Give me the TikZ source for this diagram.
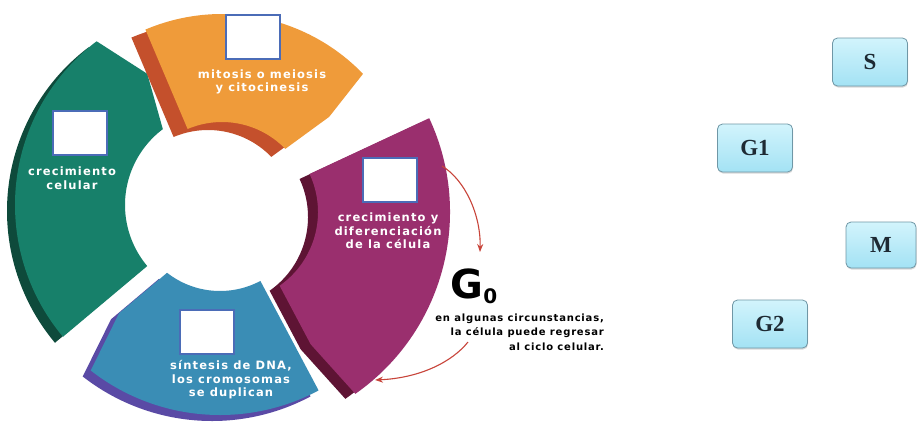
\documentclass[tikz,border=0pt]{standalone}
\usepackage{fontspec}
\usetikzlibrary{calc}
\usetikzlibrary{arrows.meta}
\usetikzlibrary{shadows}
\newfontfamily\ringfont{DejaVu Sans}[LetterSpace=10.0]
\newfontfamily\notefont{DejaVu Sans}[LetterSpace=8.0]
\newfontfamily\gzerofont{DejaVu Sans}
\newfontfamily\phasefont{Liberation Serif}
\definecolor{color_green_face}{HTML}{17806A}
\definecolor{color_green_side}{HTML}{0E4A3B}
\definecolor{color_orange_face}{HTML}{EF9B3A}
\definecolor{color_orange_side}{HTML}{C4502C}
\definecolor{color_magenta_face}{HTML}{9A2F6E}
\definecolor{color_magenta_side}{HTML}{5E1434}
\definecolor{color_blue_face}{HTML}{3A8DB5}
\definecolor{color_blue_side}{HTML}{5A4AA5}
\definecolor{color_box_border}{HTML}{4B6CB7}
\definecolor{color_go_arrow}{HTML}{C8443A}
\definecolor{color_phase_top}{HTML}{D2F4FC}
\definecolor{color_phase_bottom}{HTML}{A3E2F4}
\definecolor{color_phase_border}{HTML}{6F97A6}
\definecolor{color_phase_text}{HTML}{1E2A33}
\def\sidedx{-8}
\def\sidedy{6}
\def\cyclesector[#1,#2](#3,#4,#5,#6,#7,#8,#9){
    \begin{scope}[shift={(#3,#4)}]
        \fill[#2,shift={(\sidedx,\sidedy)}] (#5:#7) -- (#5:#8) arc[start angle=#5,end angle=#6,radius=#8]
            -- ({#6+#9}:{(#7+#8)/2}) -- (#6:#7) arc[start angle=#6,end angle=#5,radius=#7] -- cycle;
        \fill[#1] (#5:#7) -- (#5:#8) arc[start angle=#5,end angle=#6,radius=#8]
            -- ({#6+#9}:{(#7+#8)/2}) -- (#6:#7) arc[start angle=#6,end angle=#5,radius=#7] -- cycle;
    \end{scope}
}
\tikzset{
    answerbox/.style={draw=color_box_border, line width=1.8pt, fill=white, minimum width=54pt, minimum height=44pt, inner sep=0pt},
    ringlabel/.style={text=white, font=\ringfont\bfseries\fontsize{11.5}{13.5}\selectfont, align=center, inner sep=0pt},
    notelabel/.style={text=black, font=\notefont\bfseries\fontsize{10}{14.5}\selectfont, align=right, inner sep=0pt},
    phasebox/.style={rounded corners=5pt, draw=color_phase_border, line width=0.8pt, top color=color_phase_top, bottom color=color_phase_bottom,
        minimum width=75pt, minimum height=48pt, font=\phasefont\bfseries\fontsize{23}{23}\selectfont, text=color_phase_text,
        drop shadow={shadow xshift=0.5pt, shadow yshift=-1.5pt, opacity=0.3}},
    goarrow/.style={color_go_arrow, line width=1.1pt, -{Stealth[length=8pt,width=6pt]}}
}

\begin{document}
\begin{tikzpicture}[x=1pt,y=-1pt]
    \fill[white] (0,0) rectangle (917,421);
    \useasboundingbox (0,0) rectangle (917,421);
    % the four phases of the ring
    \cyclesector[color_blue_face,color_blue_side](220,205,62,128,86,210,5)
    \cyclesector[color_green_face,color_green_side](220,205,140,233,95,205,8)
    \def\sidedx{-14}
    \def\sidedy{8}
    \cyclesector[color_orange_face,color_orange_side](222,210,247,316,88,196,3)
    \def\sidedx{-10}
    \def\sidedy{5}
    \cyclesector[color_magenta_face,color_magenta_side](228,212,-25,55,90,222,3)
    % empty answer boxes
    \node[answerbox] (boxmitosis) at (253,37) {};
    \node[answerbox] (boxgrowth) at (80,133) {};
    \node[answerbox] (boxdiff) at (390,180) {};
    \node[answerbox] (boxsynth) at (207,332) {};
    % phase texts
    \node[ringlabel] (txtmitosis) at (262,82) {mitosis o meiosis\\y citocinesis};
    \node[ringlabel] (txtgrowth) at (72,178) {crecimiento\\celular};
    \node[ringlabel] (txtdiff) at (388,231) {crecimiento y\\diferenciación\\de la célula};
    \node[ringlabel] (txtsynth) at (231,380) {síntesis de DNA,\\los cromosomas\\se duplican};
    % G0
    \node[font=\gzerofont\bfseries\fontsize{40}{40}\selectfont, inner sep=0pt] (gzero) at (474,286)
        {G\lower5pt\hbox{\fontsize{20}{20}\selectfont 0}};
    \node[notelabel, anchor=east] (gzeronote) at (604,332) {en algunas circunstancias,\\la célula puede regresar\\al ciclo celular.};
    \coordinate (gzeroout) at (442,166);
    \coordinate (gzeroin) at (480,252);
    \coordinate (gzeroback) at (468,342);
    \coordinate (gzeroreturn) at (375,380);
    \draw[goarrow] (gzeroout) .. controls (465,180) and (481,215) .. (gzeroin);
    \draw[goarrow] (gzeroback) .. controls (452,362) and (420,378) .. (gzeroreturn);
    % phase names
    \node[phasebox] (phaseS) at (870,62) {S};
    \node[phasebox] (phaseGone) at (755,148) {G1};
    \node[phasebox, minimum width=70pt, minimum height=46pt] (phaseM) at (881,245) {M};
    \node[phasebox] (phaseGtwo) at (770,324) {G2};
\end{tikzpicture}
\end{document}
